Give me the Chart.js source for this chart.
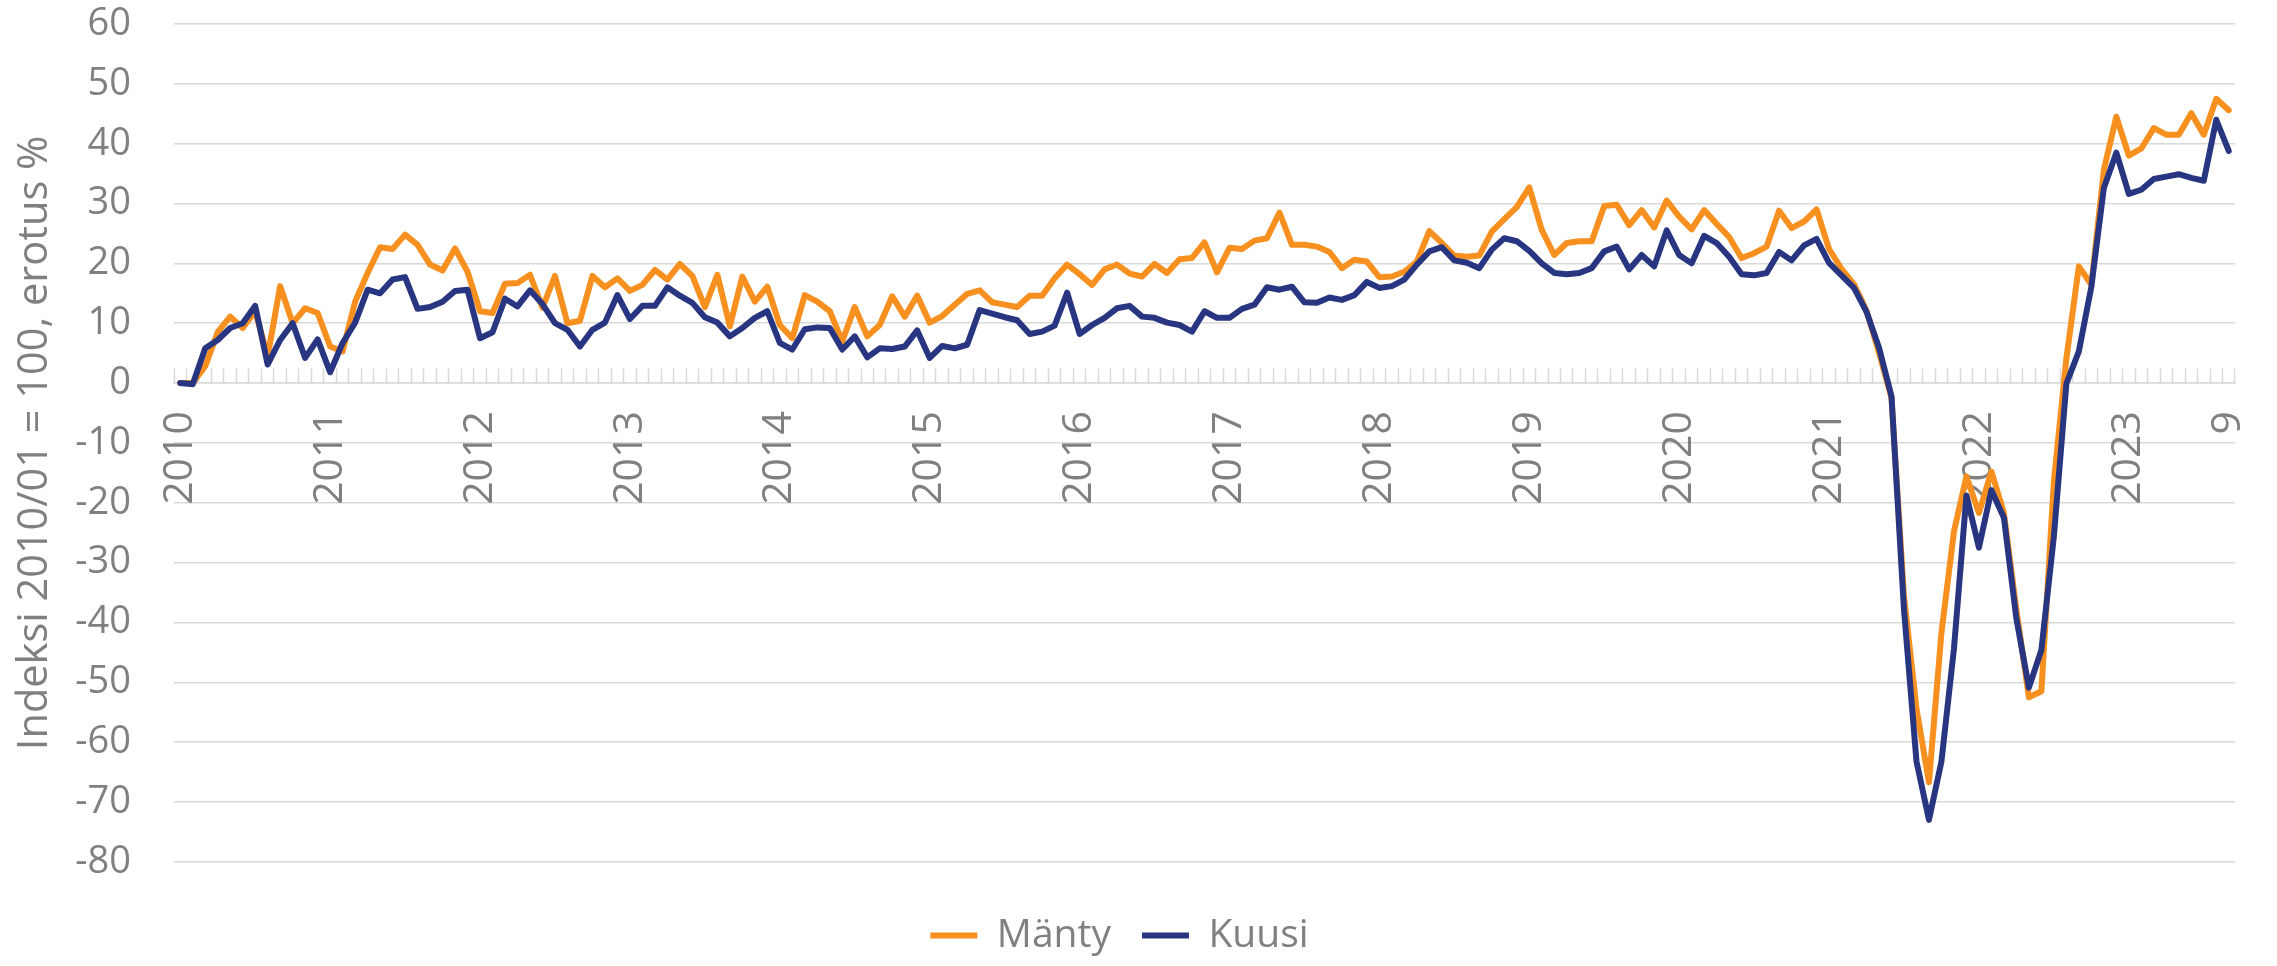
<!DOCTYPE html>
<html>
<head>
<meta charset="utf-8">
<script src="https://cdn.jsdelivr.net/npm/chart.js@4/dist/chart.umd.min.js"></script>
<style>
  html, body { margin: 0; padding: 0; background: #ffffff; overflow: hidden; }
  #wrap { position: relative; width: 2277px; height: 966px; overflow: hidden; }
  #c { position: absolute; left: -76px; top: 0; }
</style>
</head>
<body>
<div id="wrap"><canvas id="c" width="2353" height="966"></canvas></div>
<script>
// ---- Data ----
const startYear = 2010;
const endYear = 2023;
const endMonth = 9;

// Year tick labels (shown at each January) and the final month label
const yearTickLabels = ['2010','2011','2012','2013','2014','2015','2016','2017','2018','2019','2020','2021','2022','2023'];
const lastTickLabel = '9';

// Monthly categories 2010/01 ... 2023/09
const categories = [];
for (let y = startYear; y <= endYear; y++) {
  for (let m = 1; m <= 12; m++) {
    if (y === endYear && m > endMonth) break;
    categories.push(y + '/' + String(m).padStart(2, '0'));
  }
}

// Mänty (pine), index 2010/01 = 100, difference %
const manty = [
  0.0, 0.0, 2.8, 8.5, 11.1, 9.2, 12.0, 4.5, 16.2, 10.0, 12.5, 11.7,
  6.1, 5.3, 13.6, 18.4, 22.7, 22.4, 24.8, 23.1, 19.8, 18.8, 22.5, 18.6,
  12.0, 11.7, 16.6, 16.7, 18.1, 12.6, 17.9, 10.0, 10.4, 17.9, 16.0, 17.5,
  15.4, 16.4, 18.9, 17.3, 19.9, 17.9, 12.7, 18.1, 9.5, 17.8, 13.6, 16.1,
  9.7, 7.5, 14.7, 13.6, 12.0, 7.0, 12.7, 7.8, 9.7, 14.5, 11.1, 14.6,
  10.1, 11.2, 13.1, 14.9, 15.5, 13.5, 13.1, 12.7, 14.6, 14.6, 17.5, 19.8,
  18.2, 16.4, 19.0, 19.8, 18.3, 17.8, 19.9, 18.4, 20.7, 20.9, 23.5, 18.5,
  22.6, 22.4, 23.8, 24.2, 28.5, 23.1, 23.1, 22.8, 21.9, 19.2, 20.6, 20.3,
  17.7, 17.8, 18.6, 20.3, 25.4, 23.4, 21.3, 21.1, 21.3, 25.3, 27.4, 29.4,
  32.7, 25.6, 21.4, 23.4, 23.7, 23.7, 29.6, 29.8, 26.4, 28.9, 26.0, 30.5,
  27.8, 25.7, 28.9, 26.6, 24.4, 20.9, 21.7, 22.8, 28.8, 25.9, 27.0, 29.0,
  22.4, 19.1, 16.5, 12.1, 5.1, -2.5, -35.6, -54.4, -66.7, -41.7, -24.8, -15.6,
  -21.7, -14.8, -21.7, -37.9, -52.5, -51.5, -16.4, 4.1, 19.5, 16.4, 35.6, 44.5,
  38.0, 39.2, 42.6, 41.5, 41.5, 45.1, 41.5, 47.5, 45.6
];

// Kuusi (spruce)
const kuusi = [
  0.0, -0.2, 5.8, 7.2, 9.2, 10.0, 12.9, 3.1, 7.2, 10.0, 4.2, 7.3,
  1.8, 6.7, 10.1, 15.6, 15.0, 17.3, 17.7, 12.4, 12.7, 13.6, 15.4, 15.6,
  7.5, 8.5, 14.1, 12.8, 15.5, 13.2, 10.0, 8.9, 6.1, 8.9, 10.1, 14.7,
  10.7, 12.9, 12.9, 16.0, 14.6, 13.4, 11.0, 10.1, 7.8, 9.2, 10.9, 12.0,
  6.7, 5.6, 9.0, 9.3, 9.2, 5.6, 7.8, 4.3, 5.8, 5.7, 6.1, 8.8,
  4.2, 6.2, 5.8, 6.4, 12.2, 11.6, 11.0, 10.5, 8.2, 8.6, 9.6, 15.1,
  8.2, 9.7, 10.9, 12.5, 12.9, 11.1, 10.9, 10.1, 9.7, 8.6, 12.0, 10.9,
  10.9, 12.4, 13.1, 16.0, 15.6, 16.1, 13.5, 13.4, 14.3, 13.9, 14.7, 16.9,
  15.9, 16.2, 17.3, 19.8, 22.0, 22.7, 20.5, 20.1, 19.2, 22.3, 24.2, 23.7,
  22.1, 20.0, 18.4, 18.2, 18.4, 19.2, 22.0, 22.8, 19.0, 21.4, 19.5, 25.5,
  21.4, 20.0, 24.6, 23.4, 21.1, 18.2, 18.0, 18.4, 21.9, 20.5, 23.0, 24.1,
  20.1, 18.0, 15.9, 11.9, 5.9, -2.2, -37.9, -63.2, -73.0, -63.2, -44.4, -18.8,
  -27.5, -17.9, -22.5, -39.4, -50.9, -44.6, -25.6, -0.1, 5.3, 16.1, 32.6, 38.5,
  31.6, 32.3, 34.1, 34.5, 34.9, 34.3, 33.8, 44.0, 38.8
];

const seriesNames = ['Mänty', 'Kuusi'];
const yAxisTitle = 'Indeksi 2010/01 = 100, erotus %';
const yMin = -80, yMax = 60, yStep = 10;

// ---- Styles ----
const ORANGE = '#F7901E';
const BLUE = '#283580';
const TEXT = '#808080';
const GRID = '#d9d9d9';
const FONT = "'Open Sans', 'Noto Sans', 'DejaVu Sans', sans-serif";

const ctx = document.getElementById('c').getContext('2d');
new Chart(ctx, {
  type: 'line',
  data: {
    labels: categories,
    datasets: [
      { label: seriesNames[0], data: manty, borderColor: ORANGE, backgroundColor: ORANGE,
        borderWidth: 6, pointRadius: 0, tension: 0, borderJoinStyle: 'round', borderCapStyle: 'round', order: 1 },
      { label: seriesNames[1], data: kuusi, borderColor: BLUE, backgroundColor: BLUE,
        borderWidth: 6, pointRadius: 0, tension: 0, borderJoinStyle: 'round', borderCapStyle: 'round', order: 0 }
    ]
  },
  options: {
    responsive: false,
    animation: false,
    events: [],
    layout: { padding: { left: 80, right: 42, top: 24, bottom: 1 } },
    scales: {
      x: {
        type: 'category',
        offset: true,
        position: { y: 0 },
        grid: { offset: true, drawOnChartArea: false, drawTicks: true, tickLength: -15, tickColor: GRID, tickWidth: 1.5 },
        border: { display: true, color: GRID, width: 1.5 },
        ticks: {
          autoSkip: false, minRotation: 90, maxRotation: 90, padding: 43,
          color: TEXT, font: { family: FONT, size: 41 },
          callback: function (value, index) {
            const cat = categories[index];
            if (index === categories.length - 1) return lastTickLabel;
            if (cat.endsWith('/01')) {
              const yr = cat.slice(0, 4);
              return yearTickLabels.includes(yr) ? yr : '';
            }
            return '';
          }
        },
        afterFit: function (s) { s.paddingLeft = 0; s.paddingRight = 0; }
      },
      y: {
        min: yMin, max: yMax,
        ticks: { stepSize: yStep, padding: 43, color: TEXT, font: { family: FONT, size: 38 } },
        grid: { color: GRID, lineWidth: 1.5, drawTicks: false },
        border: { display: false },
        title: { display: true, text: yAxisTitle, color: TEXT, font: { family: FONT, size: 41.5 }, padding: { top: 6, bottom: 0 } },
        afterFit: function (s) { s.width = 170; s.paddingTop = 0; s.paddingBottom = 0; }
      }
    },
    plugins: {
      legend: {
        position: 'bottom',
        labels: {
          usePointStyle: true, pointStyle: 'line', pointStyleWidth: 47,
          padding: 31, color: TEXT, font: { family: FONT, size: 39 },
          sort: (a, b) => a.datasetIndex - b.datasetIndex
        },
        title: { display: true, text: '', padding: { top: 22, bottom: 0 }, font: { size: 1 } }
      },
      tooltip: { enabled: false }
    }
  }
});
</script>
</body>
</html>
